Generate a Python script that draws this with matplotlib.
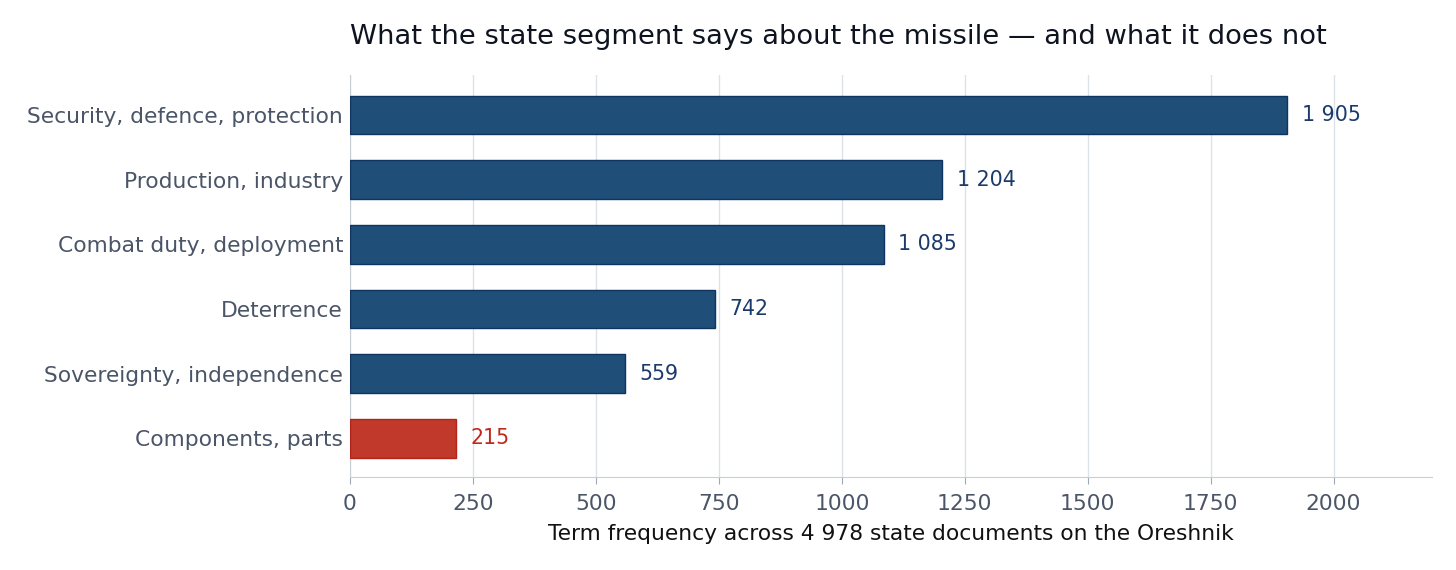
import matplotlib
matplotlib.use('Agg')
import matplotlib.pyplot as plt

categories = ['Security, defence, protection', 'Production, industry',
              'Combat duty, deployment', 'Deterrence',
              'Sovereignty, independence', 'Components, parts']
values = [1905, 1204, 1085, 742, 559, 215]
labels = ['1 905', '1 204', '1 085', '742', '559', '215']
highlight = [False, False, False, False, False, True]

blue = '#1f4e79'
red = '#c0392b'

fig = plt.figure(figsize=(14.56, 5.7), dpi=100)
ax = fig.add_axes([0.2404, 0.1632, 0.7431, 0.7052])

cats = categories[::-1]
vals = values[::-1]
labs = labels[::-1]
hl = highlight[::-1]
ypos = list(range(len(cats)))

for y, v, lab, h in zip(ypos, vals, labs, hl):
    col = red if h else blue
    edge = '#b3241a' if h else '#0f3460'
    ax.barh(y, v, height=0.6, color=col, edgecolor=edge, linewidth=1, zorder=3)
    ax.text(v + 30, y, lab, va='center', ha='left', fontsize=14.8,
            color='#c0281a' if h else '#1a3a6b')

ax.set_yticks(ypos)
ax.set_yticklabels(cats, fontsize=15.7, color='#4a5568')
ax.set_xlim(0, 2200)
ax.set_ylim(-0.6, 5.62)
ax.set_xticks([0, 250, 500, 750, 1000, 1250, 1500, 1750, 2000])
ax.tick_params(axis='x', labelsize=15.7, labelcolor='#4a5568', color='#a0a8b4',
               length=5, pad=7)
ax.tick_params(axis='y', length=0, pad=5)
ax.grid(axis='x', color='#dde1e8', linewidth=1, zorder=0)
ax.set_axisbelow(True)
for s in ['top', 'right']:
    ax.spines[s].set_visible(False)
for s in ['left', 'bottom']:
    ax.spines[s].set_color('#c8cdd6')

ax.set_xlabel('Term frequency across 4 978 state documents on the Oreshnik',
              fontsize=15.7, color='#111111', labelpad=7.5)
ax.set_title('What the state segment says about the missile \u2014 and what it does not',
             fontsize=19.7, color='#0d1420', pad=22, loc='left')

fig.savefig('out.png', dpi=100)
